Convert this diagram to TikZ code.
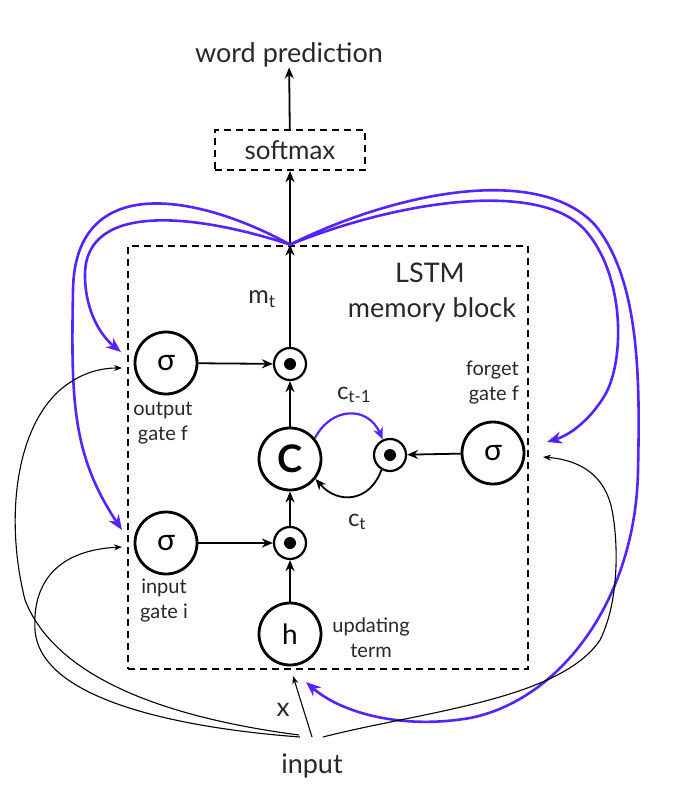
\documentclass[tikz,border=0pt]{standalone}
\usepackage{fontspec}
\setmainfont{Lato}
\usetikzlibrary{arrows.meta,calc}
\definecolor{fb}{RGB}{85,35,255}
\definecolor{tx}{RGB}{40,40,40}
\begin{document}
\begin{tikzpicture}[x=1pt,y=-1pt,
  gate/.style={circle,draw,line width=2.8pt,minimum size=62pt,inner sep=0pt,font=\fontsize{30}{30}\selectfont},
  mult/.style={circle,draw,line width=2.2pt,minimum size=32pt,inner sep=0pt,path picture={\fill (path picture bounding box.center) circle (6pt);}},
  arr/.style={line width=1.8pt,-{Stealth[length=11pt,width=9pt]}},
  blarr/.style={draw=fb,line width=2.6pt,-{Stealth[length=15pt,width=12pt]}},
  thinarr/.style={line width=1.1pt,-{Stealth[length=8pt,width=6pt]}},
  lbl/.style={font=\fontsize{20}{25}\selectfont,align=center,text=tx,inner sep=0pt},
  big/.style={font=\fontsize{27}{30}\selectfont,text=tx,inner sep=0pt,align=center},
  dbox/.style={draw,line width=2.8pt,dash pattern=on 7pt off 5pt}]
\useasboundingbox[fill=white] (0,0) rectangle (674,805);

% block
\node[dbox,minimum width=400pt,minimum height=423pt,inner sep=0pt] (box) at (328,457.5) {};
\node[big] (lstm) at (430,273) {LSTM};
\node[big] (mem) at (432,310) {memory block};

% top
\node[big] (wp) at (289,55) {word prediction};
\node[dbox,line width=2.2pt,minimum width=150pt,minimum height=40pt,font=\fontsize{26}{28}\selectfont,text=tx] (soft) at (290,150) {softmax};

% nodes
\node[gate] (og) at (166,363) {σ};
\node[gate] (ig) at (166,543) {σ};
\node[gate] (fg) at (493,453) {σ};
\node[gate,font=\fontsize{38}{38}\bfseries] (C) at (290,459) {C};
\node[gate,font=\fontsize{28}{28}\selectfont] (h) at (290,634) {h};
\node[mult] (mdot) at (290,364) {};
\node[mult] (idot) at (290,543) {};
\node[mult] (fdot) at (390,455) {};

\coordinate (top) at (box.north -| mdot);

% labels
\node[lbl] (olab) at (163,423) {output\\gate f};
\node[lbl] (ilab) at (164,601) {input\\gate i};
\node[lbl,align=right,anchor=east] (flab) at (519,383) {forget\\gate f};
\node[lbl] (ulab) at (371,638) {updating\\term};
\node[big,font=\fontsize{25}{28}\selectfont] (mt) at (262,299) {m\textsubscript{t}};
\node[big,font=\fontsize{24}{28}\selectfont] (ct1) at (354,395) {c\textsubscript{t-1}};
\node[big,font=\fontsize{24}{28}\selectfont] (ct) at (357,522) {c\textsubscript{t}};
\node[big,font=\fontsize{26}{28}\selectfont] (x) at (283,710) {x};
\node[big] (inp) at (312,766) {input};

\coordinate (sL1) at (299,735);
\coordinate (sL2) at (300,737);
\coordinate (sM) at (312,737);
\coordinate (sR) at (323,737);

% main arrows
\draw[arr] (og) -- (mdot);
\draw[arr] (ig) -- (idot);
\draw[arr] (h) -- (idot);
\draw[arr] (idot) -- (C);
\draw[arr] (C) -- (mdot);
\draw[arr] (fg) -- (fdot);
\draw[arr] (mdot) -- (top);
\draw[arr] (top) -- (soft);
\draw[arr] (soft) -- (wp);

% cell recurrence
\draw[blarr,line width=2.2pt,-{Stealth[length=12pt,width=10pt]}] (C.40) .. controls (332,406) and (368,406) .. (fdot.115);
\draw[arr] (fdot.240) .. controls (370,502) and (338,505) .. (C.-38);

% blue feedback
\draw[blarr] (top) .. controls (200,195) and (75,170) .. (73,290) .. controls (71,400) and (72,455) .. (122,530);
\draw[blarr] (top) .. controls (200,215) and (85,200) .. (85,275) .. controls (85,310) and (100,335) .. (121,352);
\draw[blarr] (top) .. controls (400,200) and (540,180) .. (585,230) .. controls (625,275) and (625,360) .. (605,395) .. controls (590,420) and (570,435) .. (547,442);
\draw[blarr] (top) .. controls (400,190) and (540,165) .. (595,225) .. controls (640,280) and (640,380) .. (638,470) .. controls (636,600) and (560,700) .. (470,718) .. controls (400,730) and (340,712) .. (306,682);

% input connections
\draw[thinarr,shorten >=10pt] (sM) -- (h.south);
\draw[thinarr] (sL1) .. controls (200,722) and (60,690) .. (25,600) .. controls (5,520) and (15,430) .. (60,390) .. controls (80,373) and (100,368) .. (122,368);
\draw[thinarr] (sL2) .. controls (180,728) and (40,700) .. (35,630) .. controls (32,580) and (60,550) .. (122,547);
\draw[thinarr] (sR) .. controls (420,712) and (560,700) .. (600,640) .. controls (620,600) and (618,540) .. (612,510) .. controls (605,475) and (580,460) .. (543,457);
\end{tikzpicture}
\end{document}
